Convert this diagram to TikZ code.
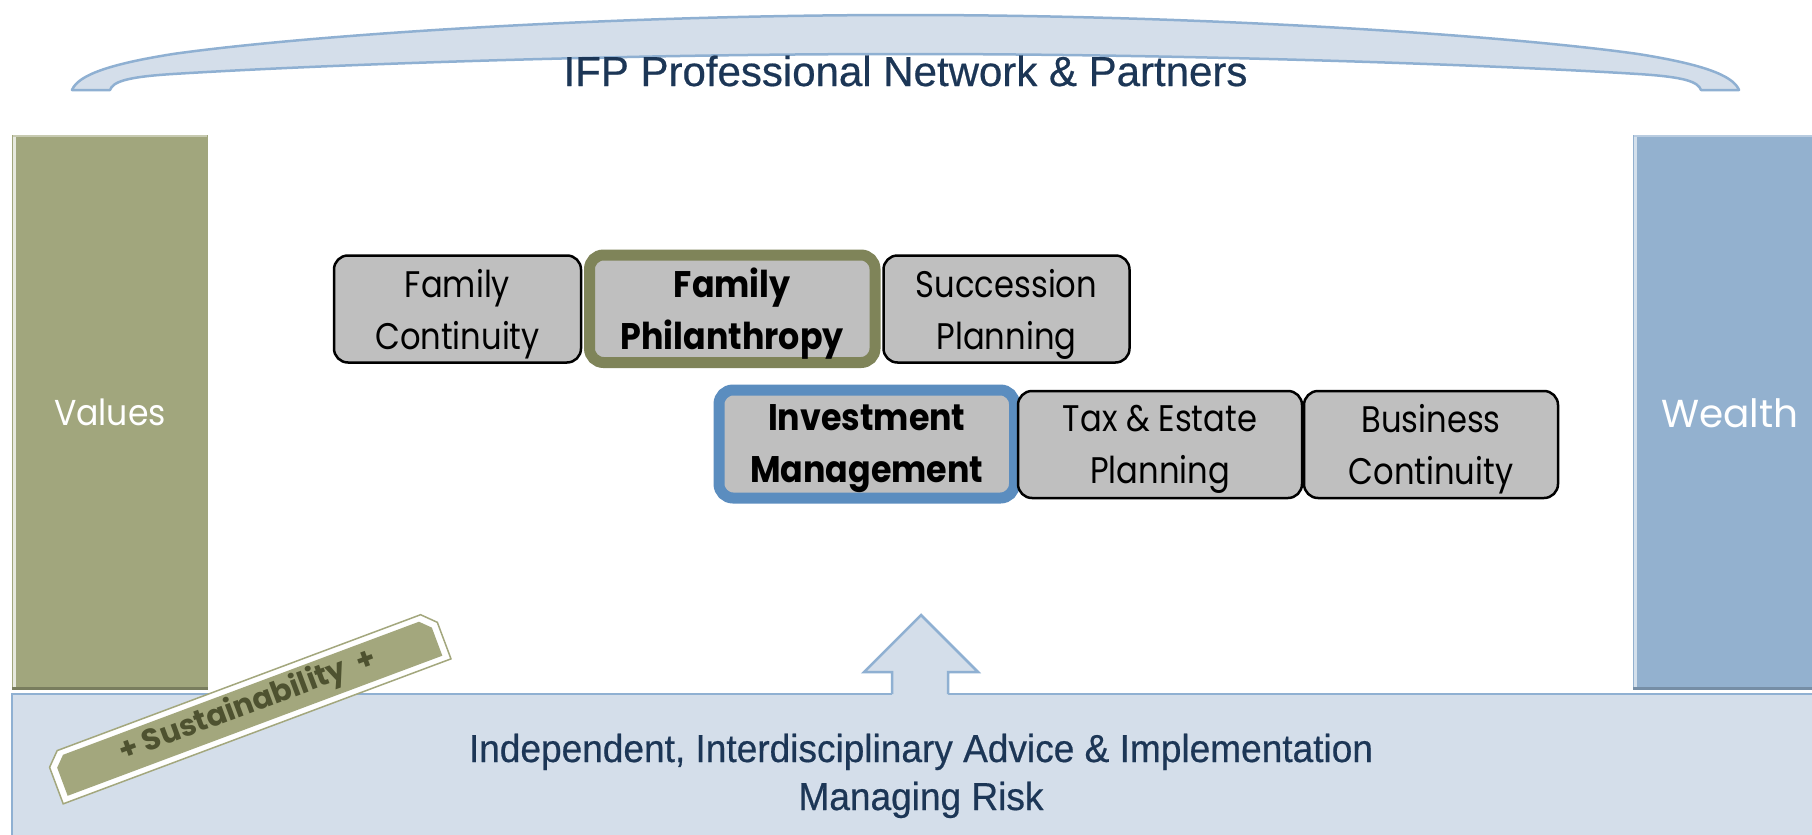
\documentclass[tikz,border=0pt]{standalone}
\usepackage{fontspec}
\setmainfont{Liberation Sans}
\newfontfamily\boxfont[FakeStretch=0.87]{Poppins}
\newfontfamily\barfont[FakeStretch=0.92]{Poppins}
\newfontfamily\wealthfont{Poppins}
\newfontfamily\boxboldfont[FakeStretch=0.9]{Poppins Bold}
\newfontfamily\susfont{Poppins Bold}
\newfontfamily\titlefont[FakeBold=0.5]{Liberation Sans}
\newfontfamily\bandfont[FakeStretch=0.95,FakeBold=0.5]{Liberation Sans}
\definecolor{valolive}{HTML}{A1A67D}
\definecolor{banolive}{HTML}{A3A77D}
\definecolor{oliveedge}{HTML}{7F8459}
\definecolor{bluedge}{HTML}{5B8DBF}
\definecolor{boxgray}{HTML}{BFBFBF}
\definecolor{bandfill}{HTML}{D4DEEA}
\definecolor{bandline}{HTML}{8FB0D2}
\definecolor{wealthblue}{HTML}{93B1CF}
\definecolor{navy}{HTML}{1C3656}
\definecolor{sustxt}{HTML}{4E5230}
\begin{document}
\begin{tikzpicture}[x=1pt,y=-1pt,
  gbox/.style={draw=black, line width=2.5pt, fill=boxgray, rounded corners=14pt,
    inner sep=0pt, minimum height=107pt},
  boldbox/.style={gbox, line width=11pt},
  boxtxt/.style={align=center, inner sep=0pt, font=\boxfont\fontsize{37}{52}\selectfont},
  boldtxt/.style={align=center, inner sep=0pt, font=\boxboldfont\fontsize{37}{52}\selectfont},
  bartext/.style={anchor=base, text=white, font=\barfont\fontsize{36}{40}\selectfont},
  bandtext/.style={anchor=base, text=navy, font=\bandfont\fontsize{39}{44}\selectfont}]
\useasboundingbox (0,0) rectangle (1812,835);
\clip (0,0) rectangle (1812,835);
\fill[white] (0,0) rectangle (1812,835);

% top arc
\path[fill=bandfill, draw=bandline, line width=2.5pt, line join=round]
  (72,90) .. controls (78,75) and (110,64) .. (173,54)
  .. controls (300,36) and (600,15) .. (905.5,15)
  .. controls (1211,15) and (1511,36) .. (1638,54)
  .. controls (1701,64) and (1733,75) .. (1739,90)
  -- (1701,90) .. controls (1698,82) and (1686,77) .. (1638,74)
  .. controls (1511,66) and (1211,54) .. (905.5,54)
  .. controls (600,54) and (300,66) .. (173,74)
  .. controls (125,77) and (113,82) .. (110,90) -- cycle;
\node[anchor=base, text=navy, font=\titlefont\fontsize{42}{48}\selectfont] (title) at (905.5,86) {IFP Professional Network \& Partners};

% side bars
\fill[valolive] (12,135) rectangle (208,690);
\draw[line width=3pt, color=white!75!valolive] (14,137) -- (14,687);
\draw[line width=2pt, color=white!40!valolive] (13,136) -- (207,136);
\draw[line width=3pt, color=black!25!valolive] (12,688.5) -- (208,688.5);
\node[bartext] (values) at (110,425) {Values};

\fill[wealthblue] (1633,135) rectangle (1830,690);
\draw[line width=3pt, color=white!60!wealthblue] (1635,137) -- (1635,687);
\draw[line width=2pt, color=white!35!wealthblue] (1634,136) -- (1830,136);
\draw[line width=3pt, color=black!20!wealthblue] (1633,688.5) -- (1830,688.5);
\node[bartext, font=\wealthfont\fontsize{39}{42}\selectfont] (wealth) at (1730,427) {Wealth};

% bottom band
\path[fill=bandfill, draw=bandline, line width=2.5pt] (12,840) -- (12,694) -- (1820,694) -- (1820,840);
\fill[bandfill] (892,672) -- (864,672) -- (921,615) -- (978,672) -- (948,672) -- (948,697) -- (892,697) -- cycle;
\draw[bandline, line width=2.5pt, line join=miter] (892,694) -- (892,672) -- (864,672) -- (921,615) -- (978,672) -- (948,672) -- (948,694);
\node[bandtext] (band1) at (921,762) {Independent, Interdisciplinary Advice \& Implementation};
\node[bandtext] (band2) at (921,810) {Managing Risk};

% service boxes
\node[gbox, minimum width=247pt] (fc) at (457.5,309) {};
\node[boxtxt] (fctxt) at ([yshift=-5pt]fc.center) {Family\\Continuity};
\node[boldbox, draw=oliveedge, minimum width=285.5pt, minimum height=107.5pt] (fp) at (732.25,308.75) {};
\node[boldtxt] (fptxt) at ([yshift=-5pt]fp.center) {Family\\Philanthropy};
\node[gbox, minimum width=246pt] (sp) at (1006.5,309) {};
\node[boxtxt] (sptxt) at ([yshift=-5pt]sp.center) {Succession\\Planning};
\node[boldbox, draw=bluedge, minimum width=295.5pt, minimum height=108pt] (im) at (866.75,444) {};
\node[boldtxt] (imtxt) at ([yshift=-5pt]im.center) {Investment\\Management};
\node[gbox, minimum width=284pt] (te) at (1160,444.5) {};
\node[boxtxt] (tetxt) at ([yshift=-5pt]te.center) {Tax \& Estate\\Planning};
\node[gbox, minimum width=254pt] (bc) at (1431,444.5) {};
\node[boxtxt] (bctxt) at ([yshift=-5pt]bc.center) {Business\\Continuity};

% sustainability banner
\begin{scope}[shift={(248,707)}, rotate=20.5]
  \path[fill=white, draw=banolive, line width=1.5pt]
    (-207,26) -- (207,26) -- (207,-13) -- (194,-26) -- (-194,-26) -- (-207,-13) -- cycle;
  \fill[banolive] (-200,20) -- (200,20) -- (200,-10) -- (190,-20) -- (-190,-20) -- (-200,-10) -- cycle;
\end{scope}
\node[rotate=20.5, text=sustxt, inner sep=0pt, font=\susfont\fontsize{30}{34}\selectfont] (sust) at (248,706) {+ Sustainability\ \ +};
\end{tikzpicture}
\end{document}
